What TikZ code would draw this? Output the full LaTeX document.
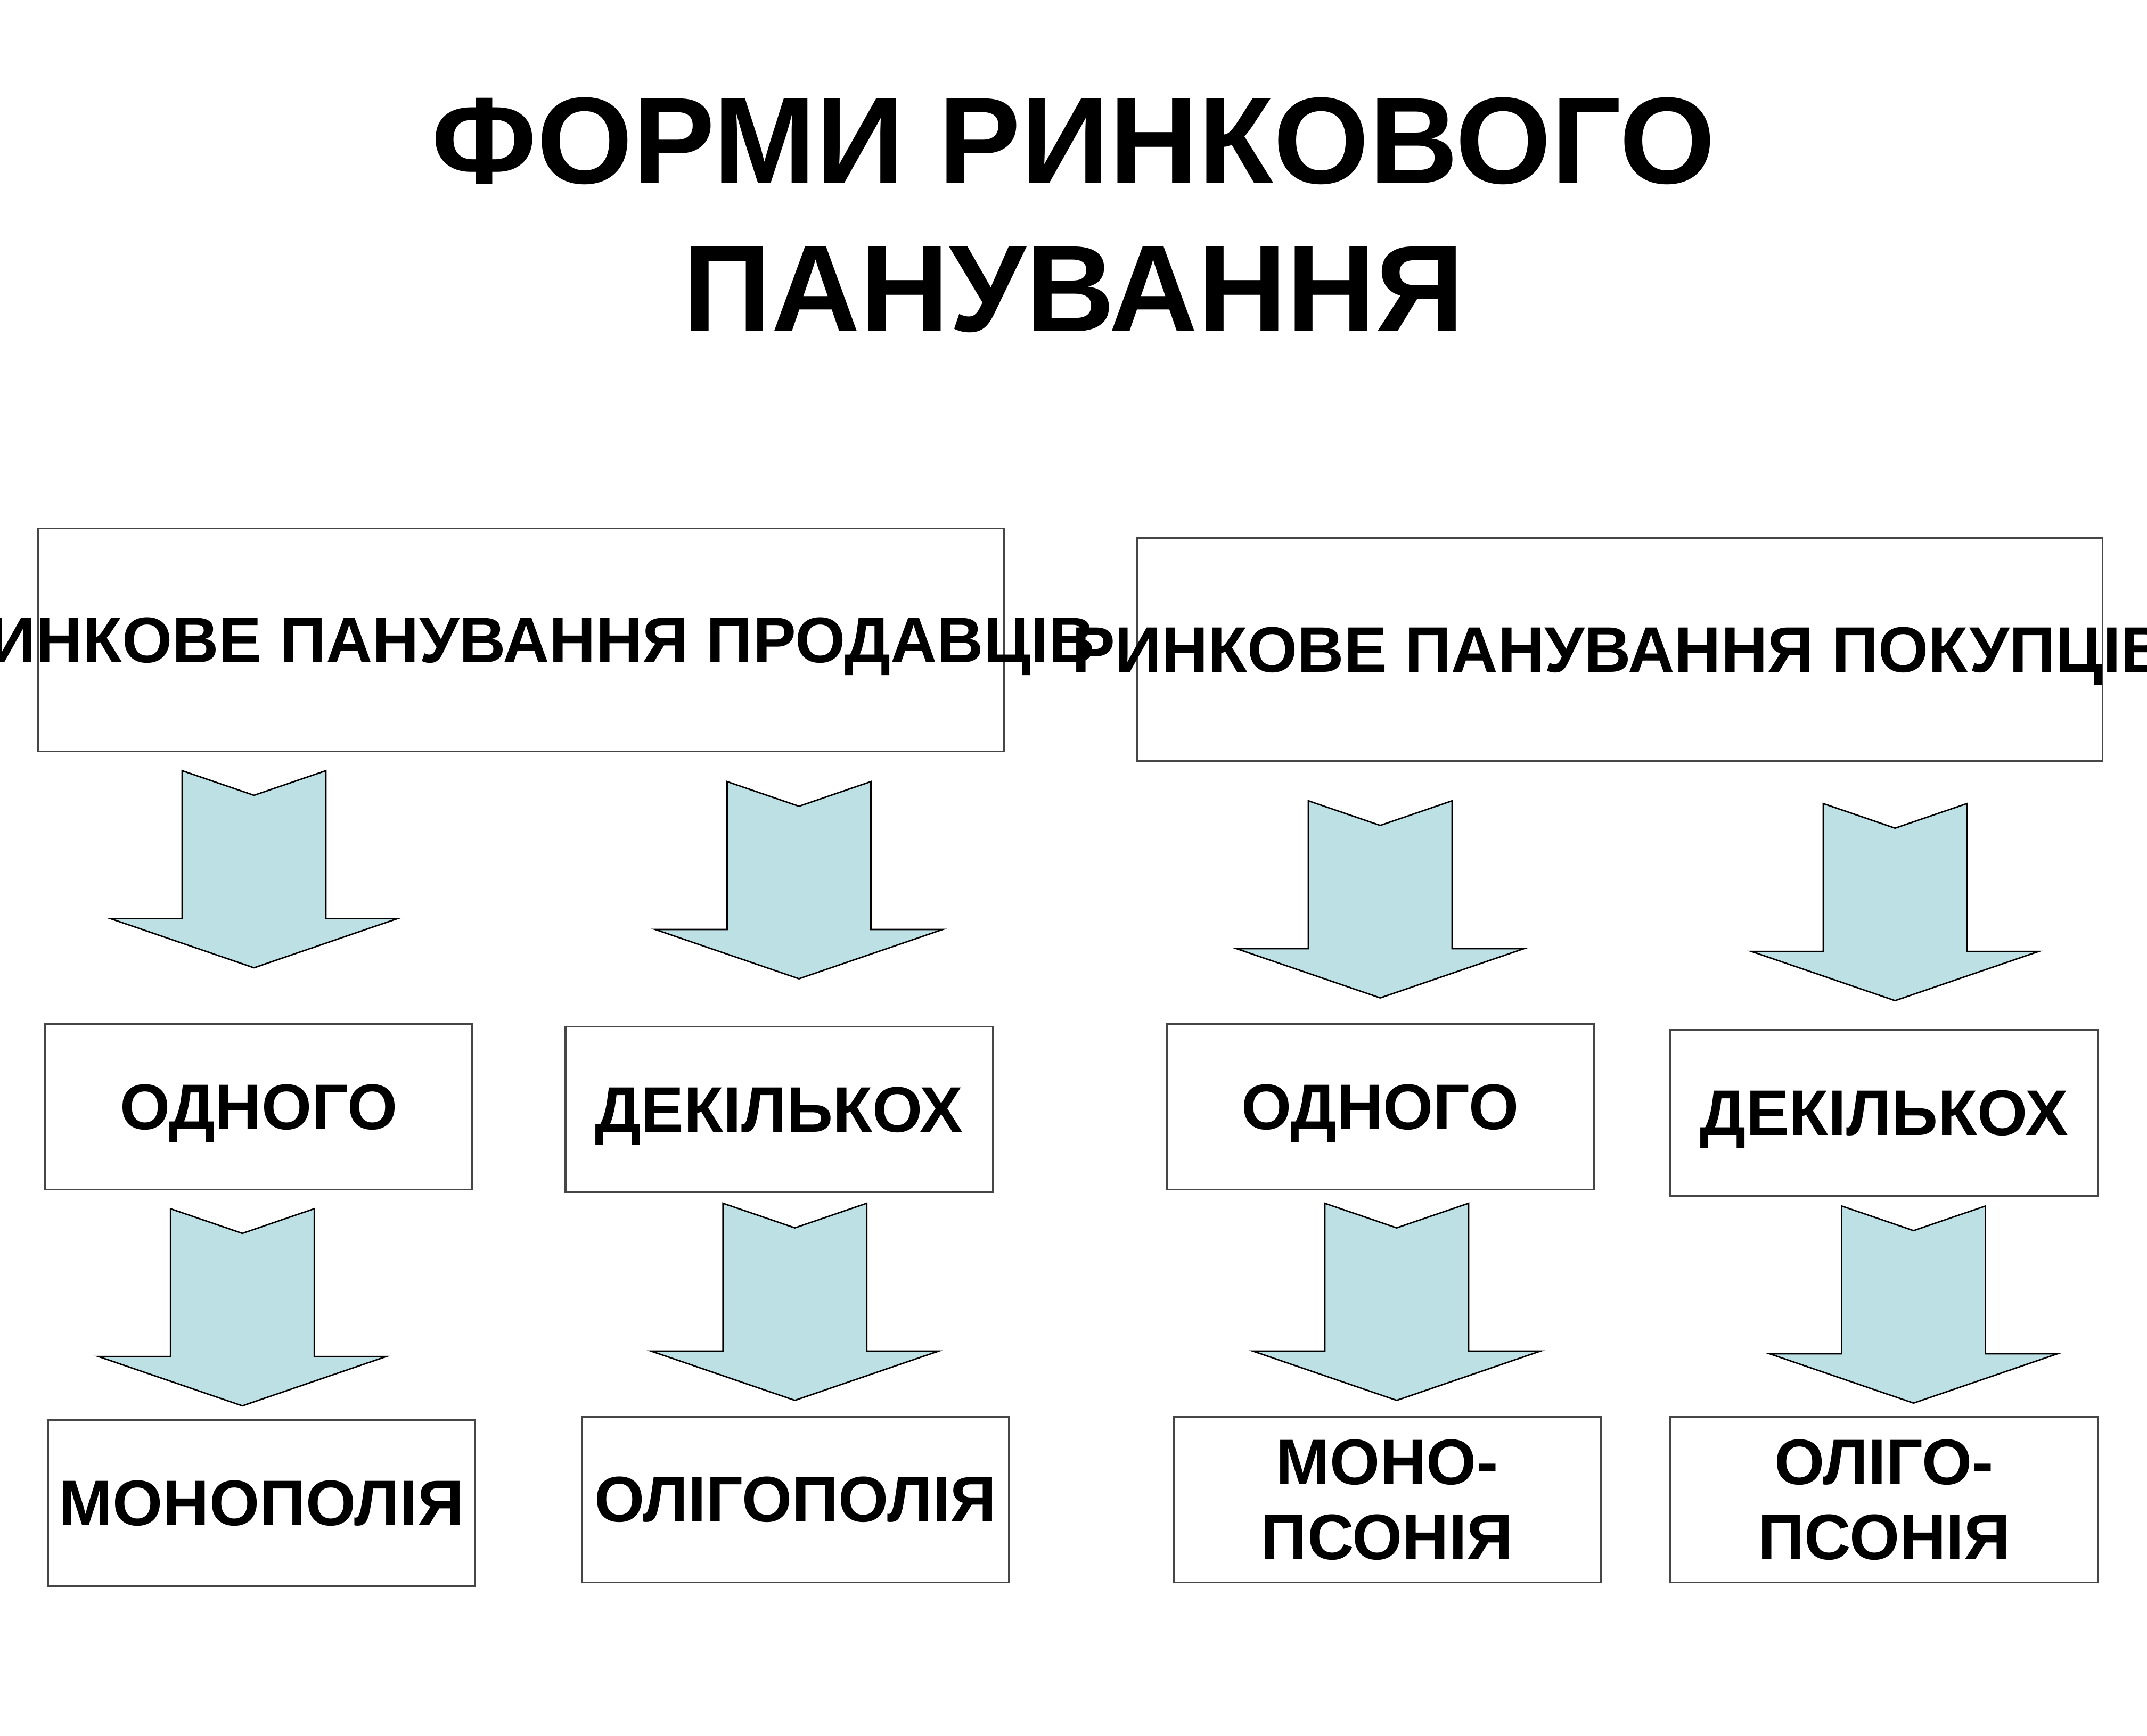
\documentclass[tikz,border=0pt]{standalone}
\usepackage{fontspec}
\setmainfont{Liberation Sans}
\usetikzlibrary{positioning, calc}
\definecolor{arrowblue}{RGB}{189, 224, 229}
\definecolor{frameline}{RGB}{70, 70, 70}

\tikzset{
  headbox/.style={draw=frameline, line width=0.4pt, minimum width=7.05cm, minimum height=1.63cm,
    inner sep=0pt, text depth=0pt, font=\fontsize{13.4}{16}\selectfont\bfseries},
  formbox/.style={draw=frameline, line width=0.4pt, minimum width=3.12cm, minimum height=1.21cm,
    inner sep=0pt, align=center, font=\fontsize{13.4}{15.6}\selectfont\bfseries},
  downblock/.pic={
    \filldraw[fill=arrowblue, draw=black, line width=0.3pt, line join=miter]
      (-0.525,0) -- (0,-0.18) -- (0.525,0) -- (0.525,-1.08) -- (1.05,-1.08)
      -- (0,-1.44) -- (-1.05,-1.08) -- (-0.525,-1.08) -- cycle;
  }
}

\begin{document}
\begin{tikzpicture}
  \useasboundingbox (0,0) rectangle (15.68,12.68);

  % Title
  \node[align=center, font=\fontsize{25.6}{30.8}\selectfont\bfseries] (title) at (7.84, 11.11)
    {ФОРМИ РИНКОВОГО\\ПАНУВАННЯ};

  % Sellers / buyers
  \node[headbox] (sellers) at (3.805, 8.005) {\makebox[0pt]{РИНКОВЕ ПАНУВАННЯ ПРОДАВЦІВ}};
  \node[headbox] (buyers) at (11.83, 7.935) {\makebox[0pt]{РИНКОВЕ ПАНУВАННЯ ПОКУПЦІВ}};

  % First row of arrows
  \pic at (1.855, 7.05) {downblock};
  \pic at (5.835, 6.97) {downblock};
  \pic at (10.08, 6.83) {downblock};
  \pic at (13.84, 6.81) {downblock};

  % How many
  \node[formbox, text depth=0pt] (oneseller) at (1.89, 4.595) {ОДНОГО};
  \node[formbox, text depth=0pt] (fewsellers) at (5.69, 4.575) {ДЕКІЛЬКОХ};
  \node[formbox, text depth=0pt] (onebuyer) at (10.08, 4.595) {ОДНОГО};
  \node[formbox, text depth=0pt] (fewbuyers) at (13.76, 4.55) {ДЕКІЛЬКОХ};

  % Second row of arrows
  \pic at (1.77, 3.85) {downblock};
  \pic at (5.805, 3.89) {downblock};
  \pic at (10.20, 3.89) {downblock};
  \pic at (13.975, 3.87) {downblock};

  % Market forms
  \node[formbox] (monopoly) at (1.91, 1.70) {МОНОПОЛІЯ};
  \node[formbox] (oligopoly) at (5.81, 1.725) {ОЛІГОПОЛІЯ};
  \node[formbox] (monopsony) at (10.13, 1.725) {МОНО-\\ПСОНІЯ};
  \node[formbox] (oligopsony) at (13.76, 1.725) {ОЛІГО-\\ПСОНІЯ};
\end{tikzpicture}
\end{document}
